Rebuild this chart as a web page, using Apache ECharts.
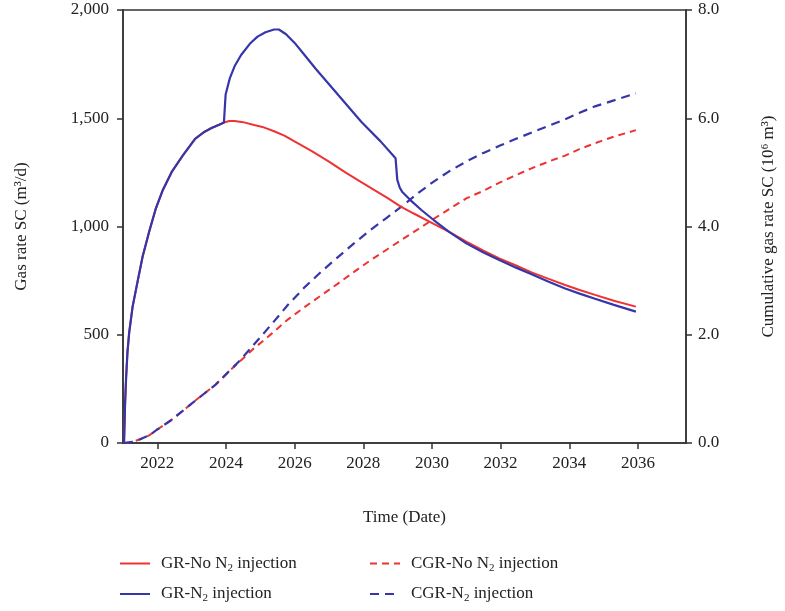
<!DOCTYPE html>
<html>
<head>
<meta charset="utf-8">
<script src="https://cdn.jsdelivr.net/npm/echarts@6/dist/echarts.min.js"></script>
<style>
  html, body { margin: 0; padding: 0; background: #fff; }
  #chart { width: 785px; height: 611px; }
</style>
</head>
<body>
<div id="chart"></div>
<script>
// tick values
const yearTicks = [2022, 2024, 2026, 2028, 2030, 2032, 2034, 2036]

// gas rate, m3/d  [year, value]
const grNoN2 = [
  [2021.03, 0], [2021.06, 180], [2021.09, 300], [2021.13, 420], [2021.18, 510],
  [2021.28, 630], [2021.43, 750], [2021.57, 860], [2021.76, 975], [2021.95, 1080],
  [2022.15, 1165], [2022.43, 1255], [2022.75, 1330], [2023.1, 1405], [2023.35, 1435],
  [2023.58, 1455], [2023.8, 1470], [2023.94, 1480], [2024.1, 1487], [2024.25, 1487],
  [2024.5, 1482], [2024.82, 1469], [2025.06, 1460], [2025.4, 1440], [2025.7, 1420],
  [2025.97, 1395], [2026.5, 1348], [2027.0, 1300], [2027.5, 1248], [2027.94, 1205],
  [2028.3, 1170], [2028.7, 1132], [2029.09, 1092], [2029.47, 1060], [2030.05, 1012],
  [2030.5, 975], [2031.0, 930], [2031.5, 888], [2031.96, 853], [2032.45, 820],
  [2032.92, 787], [2033.4, 758], [2033.88, 730], [2034.3, 707], [2034.75, 684],
  [2035.3, 657], [2035.94, 630]
]
const grN2 = [
  [2021.03, 0], [2021.06, 180], [2021.09, 300], [2021.13, 420], [2021.18, 510],
  [2021.28, 630], [2021.43, 750], [2021.57, 860], [2021.76, 975], [2021.95, 1080],
  [2022.15, 1165], [2022.43, 1255], [2022.75, 1330], [2023.1, 1405], [2023.35, 1435],
  [2023.58, 1455], [2023.8, 1470], [2023.94, 1480], [2023.97, 1560], [2023.99, 1610],
  [2024.11, 1684], [2024.25, 1740], [2024.44, 1792], [2024.7, 1845], [2024.92, 1877],
  [2025.15, 1897], [2025.4, 1910], [2025.54, 1910], [2025.75, 1888], [2026.0, 1848],
  [2026.3, 1790], [2026.6, 1731], [2027.27, 1607], [2027.94, 1484], [2028.51, 1392],
  [2028.94, 1315], [2028.99, 1215], [2029.06, 1180], [2029.13, 1161], [2029.37, 1122],
  [2029.7, 1075], [2030.05, 1030], [2030.5, 975], [2031.0, 922], [2031.5, 880],
  [2031.96, 845], [2032.45, 810], [2032.92, 778], [2033.4, 745], [2033.88, 714],
  [2034.3, 690], [2034.75, 666], [2035.3, 638], [2035.94, 607]
]

// cumulative gas, 10^6 m3  [year, value]
const cgrNoN2 = [
  [2021.03, 0], [2021.28, 0.02], [2021.5, 0.07], [2021.76, 0.14], [2022.0, 0.25],
  [2022.4, 0.42], [2022.75, 0.6], [2023.2, 0.83], [2023.7, 1.08], [2024.05, 1.3],
  [2024.39, 1.5], [2024.8, 1.74], [2025.35, 2.03], [2025.8, 2.28], [2026.31, 2.52],
  [2026.8, 2.74], [2027.27, 2.95], [2027.75, 3.17], [2028.22, 3.38], [2028.7, 3.58],
  [2029.18, 3.78], [2029.6, 3.95], [2030.05, 4.14], [2030.5, 4.32], [2031.0, 4.52],
  [2031.5, 4.66], [2032.0, 4.82], [2032.45, 4.95], [2032.92, 5.08], [2033.4, 5.2],
  [2033.88, 5.31], [2034.3, 5.43], [2034.75, 5.54], [2035.3, 5.66], [2035.94, 5.78]
]
const cgrN2 = [
  [2021.03, 0], [2021.28, 0.02], [2021.5, 0.07], [2021.76, 0.14], [2022.0, 0.25],
  [2022.4, 0.42], [2022.75, 0.6], [2023.2, 0.83], [2023.7, 1.08], [2024.05, 1.3],
  [2024.4, 1.52], [2024.8, 1.81], [2025.35, 2.21], [2025.8, 2.55], [2026.31, 2.89],
  [2026.8, 3.18], [2027.27, 3.44], [2027.75, 3.7], [2028.22, 3.94], [2028.7, 4.17],
  [2029.18, 4.4], [2029.6, 4.62], [2030.05, 4.83], [2030.5, 5.02], [2031.0, 5.2],
  [2031.5, 5.36], [2032.0, 5.5], [2032.45, 5.62], [2032.92, 5.74], [2033.4, 5.86],
  [2033.88, 5.98], [2034.3, 6.1], [2034.75, 6.22], [2035.3, 6.33], [2035.94, 6.46]
]

const RED = '#ee3333'
const BLUE = '#3636aa'
const AXIS = '#333'
const FONT = '"Liberation Serif", "DejaVu Serif", serif'

const chart = echarts.init(document.getElementById('chart'))

const legendRich = {
  a: { fontFamily: FONT, fontSize: 17, color: '#222' },
  s: { fontFamily: FONT, fontSize: 11, color: '#222', padding: [9, 0, 0, 0] }
}
const legendFmt = name => {
  const parts = name.split('N2')
  return '{a|' + parts[0] + 'N}{s|2}{a|' + parts[1] + '}'
}
const legendBase = {
  orient: 'vertical',
  top: 550,
  itemWidth: 30,
  itemHeight: 14,
  itemGap: 12,
  itemStyle: { opacity: 0 },
  formatter: legendFmt,
  textStyle: { rich: legendRich, padding: [0, 0, 0, 6] }
}

const axisLineStyle = { show: true, lineStyle: { color: AXIS, width: 1.5 } }

chart.setOption({
  animation: false,
  backgroundColor: '#fff',
  textStyle: { fontFamily: FONT },
  grid: {
    left: 123, right: 92, top: 10, bottom: 168,
    show: true, borderColor: AXIS, borderWidth: 1.5, backgroundColor: 'transparent'
  },
  legend: [
    Object.assign({ left: 114, data: ['GR-No N2 injection', 'GR-N2 injection'] }, legendBase),
    Object.assign({ left: 364, data: ['CGR-No N2 injection', 'CGR-N2 injection'] }, legendBase)
  ],
  xAxis: {
    type: 'value',
    min: 2021,
    max: 2037.4,
    name: 'Time (Date)',
    nameLocation: 'middle',
    nameGap: 66,
    nameTextStyle: { fontFamily: FONT, fontSize: 17, color: '#222' },
    axisLine: axisLineStyle,
    axisTick: { show: true, length: 6, lineStyle: { color: AXIS, width: 1.5 }, customValues: yearTicks },
    axisLabel: {
      fontFamily: FONT, fontSize: 17, color: '#222', margin: 12, customValues: yearTicks,
      formatter: v => String(v)
    },
    splitLine: { show: false }
  },
  yAxis: [
    {
      type: 'value',
      min: 0, max: 2000, interval: 500,
      name: 'Gas rate SC (m\u00b3/d)',
      nameLocation: 'middle',
      nameRotate: 90,
      nameGap: 93,
      nameTextStyle: { fontFamily: FONT, fontSize: 17, color: '#222' },
      axisLine: axisLineStyle,
      axisTick: { show: true, length: 6, lineStyle: { color: AXIS, width: 1.5 } },
      axisLabel: {
        fontFamily: FONT, fontSize: 17, color: '#222', margin: 14,
        formatter: v => v.toLocaleString('en-US')
      },
      splitLine: { show: false }
    },
    {
      type: 'value',
      min: 0, max: 8, interval: 2,
      name: 'Cumulative gas rate SC (10\u2076 m\u00b3)',
      nameLocation: 'middle',
      nameRotate: 90,
      nameGap: 74,
      nameTextStyle: { fontFamily: FONT, fontSize: 17, color: '#222' },
      axisLine: axisLineStyle,
      axisTick: { show: true, length: 6, lineStyle: { color: AXIS, width: 1.5 } },
      axisLabel: {
        fontFamily: FONT, fontSize: 17, color: '#222', margin: 12,
        formatter: v => v.toFixed(1)
      },
      splitLine: { show: false }
    }
  ],
  series: [
    {
      name: 'CGR-No N2 injection', type: 'line', yAxisIndex: 1, data: cgrNoN2,
      showSymbol: false, symbol: 'none',
      lineStyle: { color: RED, width: 2, type: [7, 5] }, itemStyle: { color: RED }
    },
    {
      name: 'CGR-N2 injection', type: 'line', yAxisIndex: 1, data: cgrN2,
      showSymbol: false, symbol: 'none',
      lineStyle: { color: BLUE, width: 2.2, type: [9, 6] }, itemStyle: { color: BLUE }
    },
    {
      name: 'GR-No N2 injection', type: 'line', yAxisIndex: 0, data: grNoN2,
      showSymbol: false, symbol: 'none',
      lineStyle: { color: RED, width: 2 }, itemStyle: { color: RED }
    },
    {
      name: 'GR-N2 injection', type: 'line', yAxisIndex: 0, data: grN2,
      showSymbol: false, symbol: 'none',
      lineStyle: { color: BLUE, width: 2.2 }, itemStyle: { color: BLUE }
    }
  ]
})

window.addEventListener('resize', () => chart.resize())
</script>
</body>
</html>
